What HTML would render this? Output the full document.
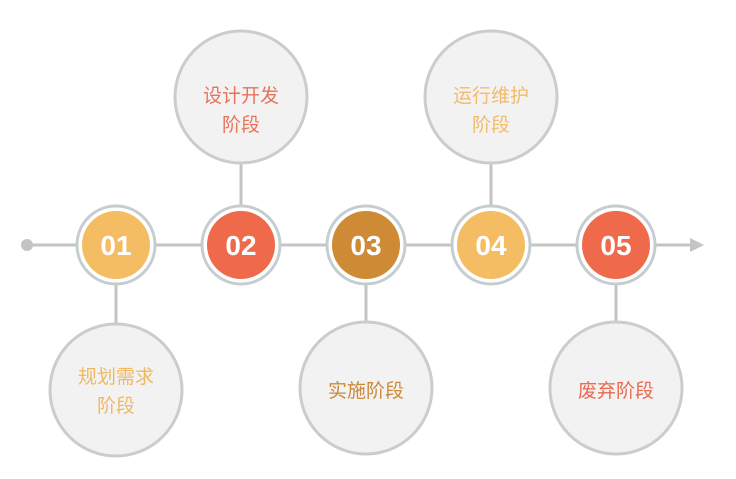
<!DOCTYPE html>
<html><head><meta charset="utf-8"><style>
body{margin:0;background:#fff;width:736px;height:474px;overflow:hidden}
svg text{font-family:"Liberation Sans","Noto Sans CJK SC",sans-serif}
</style></head><body>
<svg width="736" height="474" viewBox="0 0 736 474" xmlns="http://www.w3.org/2000/svg">
<g stroke="#c4c4c4" stroke-width="3">
<line x1="27" y1="245" x2="692" y2="245"/>
<line x1="241" y1="160" x2="241" y2="210"/>
<line x1="491" y1="160" x2="491" y2="210"/>
<line x1="116" y1="280" x2="116" y2="330"/>
<line x1="366" y1="280" x2="366" y2="325"/>
<line x1="616" y1="280" x2="616" y2="325"/>
</g>
<circle cx="27" cy="245" r="6" fill="#c4c4c4"/>
<polygon points="690,238 704,245 690,252" fill="#c4c4c4"/>
<g fill="#f2f2f2" stroke="#cccccc" stroke-width="3">
<circle cx="241" cy="97" r="66"/>
<circle cx="491" cy="97" r="66"/>
<circle cx="116" cy="390" r="66"/>
<circle cx="366" cy="388" r="66"/>
<circle cx="616" cy="388" r="66"/>
</g>
<g font-size="19" text-anchor="middle">
<text x="241" y="102" fill="#e8735a">设计开发</text>
<text x="241" y="131" fill="#e8735a">阶段</text>
<text x="491" y="102" fill="#f3bb6a">运行维护</text>
<text x="491" y="131" fill="#f3bb6a">阶段</text>
<text x="116" y="383" fill="#f0b862">规划需求</text>
<text x="116" y="412" fill="#f0b862">阶段</text>
<text x="366" y="397" fill="#c98a3a">实施阶段</text>
<text x="616" y="397" fill="#e86a4f">废弃阶段</text>
</g>
<g stroke="#c6cdd0" stroke-width="3" fill="#fff">
<circle cx="116" cy="245" r="39"/><circle cx="241" cy="245" r="39"/><circle cx="366" cy="245" r="39"/><circle cx="491" cy="245" r="39"/><circle cx="616" cy="245" r="39"/>
</g>
<circle cx="116" cy="245" r="34" fill="#f5bd63"/>
<circle cx="241" cy="245" r="34" fill="#ef6a4a"/>
<circle cx="366" cy="245" r="34" fill="#cf8a35"/>
<circle cx="491" cy="245" r="34" fill="#f5bd63"/>
<circle cx="616" cy="245" r="34" fill="#ef6a4a"/>
<g font-size="28" font-weight="bold" fill="#fff" text-anchor="middle">
<text x="116" y="255">01</text><text x="241" y="255">02</text><text x="366" y="255">03</text><text x="491" y="255">04</text><text x="616" y="255">05</text>
</g>
</svg>
</body></html>
